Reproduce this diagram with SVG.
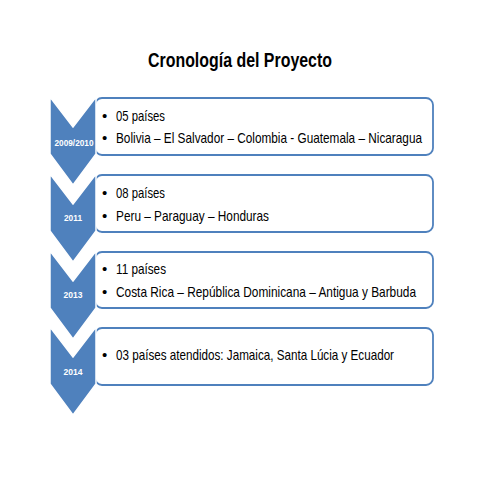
<svg xmlns="http://www.w3.org/2000/svg" width="480" height="480" viewBox="0 0 480 480">
<style>
.bg{fill:#ffffff}
.chev{fill:#4F81BD;stroke:#ffffff;stroke-width:1.5;stroke-linejoin:miter}
.box{fill:#ffffff;stroke:#4F81BD;stroke-width:1.8}
.yr{font-family:"Liberation Sans",Arial,sans-serif;font-size:9.5px;font-weight:bold;fill:#ffffff;text-anchor:middle}
.tx{font-family:"Liberation Sans",Arial,sans-serif;font-size:15px;fill:#000000}
.txs{font-family:"Liberation Sans",Arial,sans-serif;font-size:13px;fill:#000000}
.bul{font-family:"Liberation Sans",Arial,sans-serif;font-size:15px;fill:#000000}
.title{font-family:"Liberation Sans",Arial,sans-serif;font-size:21px;font-weight:bold;fill:#000000;text-anchor:middle}
</style>
<rect class="bg" x="0" y="0" width="480" height="480"/>
<text class="title" x="240" y="67" textLength="184" lengthAdjust="spacingAndGlyphs">Cronología del Proyecto</text>

<g id="box1">
<rect class="box" x="95" y="98" width="338" height="57" rx="7"/>
<text class="bul" x="102" y="121">•</text>
<text class="tx" x="116" y="121" textLength="49" lengthAdjust="spacingAndGlyphs">05 países</text>
<text class="bul" x="102" y="143">•</text>
<text class="txs" transform="translate(116,143) scale(1,1.15)" x="0" y="0" textLength="306" lengthAdjust="spacingAndGlyphs">Bolivia – El Salvador – Colombia - Guatemala – Nicaragua</text>
</g>
<g id="box2">
<rect class="box" x="95" y="175" width="338" height="57" rx="7"/>
<text class="bul" x="102" y="198">•</text>
<text class="tx" x="116" y="198" textLength="49" lengthAdjust="spacingAndGlyphs">08 países</text>
<text class="bul" x="102" y="221">•</text>
<text class="tx" x="116" y="221" textLength="153" lengthAdjust="spacingAndGlyphs">Peru – Paraguay – Honduras</text>
</g>
<g id="box3">
<rect class="box" x="95" y="252" width="338" height="56" rx="7"/>
<text class="bul" x="102" y="274">•</text>
<text class="tx" x="116" y="274" textLength="50" lengthAdjust="spacingAndGlyphs">11 países</text>
<text class="bul" x="102" y="297">•</text>
<text class="txs" transform="translate(116,297) scale(1,1.15)" x="0" y="0" textLength="300" lengthAdjust="spacingAndGlyphs">Costa Rica – República Dominicana – Antigua y Barbuda</text>
</g>
<g id="box4">
<rect class="box" x="95" y="328" width="338" height="57" rx="7"/>
<text class="bul" x="102" y="360">•</text>
<text class="tx" x="116" y="360" textLength="278" lengthAdjust="spacingAndGlyphs">03 países atendidos: Jamaica, Santa Lúcia y Ecuador</text>
</g>

<g id="chevron4">
<polygon class="chev" points="50,327 73,357 96,327 96,384 73,415 50,384"/>
<text class="yr" x="73" y="375" textLength="19" lengthAdjust="spacingAndGlyphs">2014</text>
</g>
<g id="chevron3">
<polygon class="chev" points="50,251 73,281 96,251 96,308 73,339 50,308"/>
<text class="yr" x="73" y="298" textLength="19" lengthAdjust="spacingAndGlyphs">2013</text>
</g>
<g id="chevron2">
<polygon class="chev" points="50,174 73,204 96,174 96,231 73,262 50,231"/>
<text class="yr" x="73" y="221" textLength="18" lengthAdjust="spacingAndGlyphs">2011</text>
</g>
<g id="chevron1">
<polygon class="chev" points="50,97 73,127 96,97 96,154 73,185 50,154"/>
<text class="yr" x="74" y="146" textLength="39" lengthAdjust="spacingAndGlyphs">2009/2010</text>
</g>
<g id="connectors"></g>
</svg>
